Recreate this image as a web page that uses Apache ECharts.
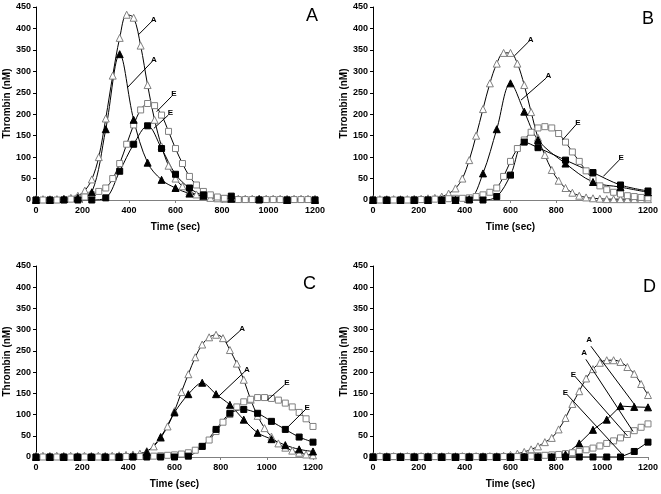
<!DOCTYPE html>
<html><head><meta charset="utf-8">
<script src="https://cdn.jsdelivr.net/npm/echarts/dist/echarts.min.js"></script>
<style>html,body{margin:0;padding:0;background:#fff}#c{width:661px;height:494px}</style>
</head><body><div id="c"></div>
<script>
// time grids (sec)
const t30 = [0,30,60,90,120,150,180,210,240,270,300,330,360,390,420,450,480,510,540,570,600,630,660,690,720,750,780,810,840,870,900,930,960,990,1020,1050,1080,1110,1140,1170,1200];
const t60 = [0,60,120,180,240,300,360,420,480,540,600,660,720,780,840,900,960,1020,1080,1140,1200];
const tAB = [0,60,120,180,240,300,360,420,480,540,600,660,720,840,960,1080,1200];

// Panel A (nM)
const A_openTri = [2,2,2,2,3,5,10,22,48,100,190,290,378,432,425,360,268,187,125,80,50,32,20,13,8,5,4,3,3,3,3,3,3,3,3,3,3,3,3,3,3];
const A_openSq  = [0,0,0,0,1,2,4,7,12,20,28,50,85,130,175,210,225,220,198,160,120,85,55,35,20,12,7,4,2,1,1,1,1,1,1,1,1,1,1,1,1];
const A_fillTri = [0,0,2,5,18,165,340,187,87,47,28,15,10,3,2,0,0];
const A_fillSq  = [0,0,0,0,0,5,67,130,173,120,60,28,12,9,0,0,0];

// Panel B
const B_openTri = [2,2,2,2,2,2,3,3,4,5,8,15,27,50,93,150,212,272,318,343,343,318,268,205,145,105,70,45,28,17,10,6,4,3,2,2,2,2,2,2,2];
const B_openSq  = [0,0,0,0,0,0,1,1,1,2,2,3,4,4,5,8,12,18,28,55,90,120,140,158,168,171,168,155,135,112,90,68,48,33,24,18,14,10,8,6,5];
const B_fillTri = [0,0,0,0,0,0,0,2,62,165,272,206,140,85,42,30,18];
const B_fillSq  = [0,0,0,0,0,0,0,0,0,8,58,135,122,93,64,35,21];

// Panel C
const C_openTri = [3,3,3,3,3,3,3,3,3,3,3,3,4,5,6,8,14,25,45,72,108,153,195,235,265,282,288,280,252,220,182,135,97,68,48,32,22,15,10,6,4];
const C_openSq  = [0,0,0,0,0,0,0,0,0,0,0,0,1,1,1,1,1,2,3,4,5,7,10,16,25,40,60,82,100,118,130,136,140,140,138,134,127,118,105,90,72];
const C_fillTri = [0,0,0,0,0,0,0,2,12,47,105,148,175,148,123,88,57,42,28,18,13];
const C_fillSq  = [0,0,0,0,0,0,0,0,0,0,0,2,25,65,103,112,103,84,65,47,35];

// Panel D
const D_openTri = [2,2,2,2,2,2,2,2,2,2,2,2,2,2,2,2,2,2,2,3,5,8,12,18,25,35,45,65,92,125,155,185,207,222,228,228,224,212,196,172,146];
const D_openSq  = [1,1,1,1,1,1,1,1,1,1,1,1,1,1,1,1,1,1,1,1,1,1,1,2,3,4,5,6,8,10,13,17,21,26,32,38,45,53,62,70,78];
const D_fillTri = [0,0,0,0,0,0,0,0,0,0,0,0,0,0,6,32,64,88,120,118,117];
const D_fillSq  = [0,0,0,0,0,0,0,0,0,0,0,0,0,0,0,0,0,0,0,13,35];

// leader annotations: [label, t_start, v_start, t_end, v_end]
const leadA = [['A',497,416,440,385],['A',498,322,393,262],['E',584,242,519,206],['E',569,198,507,167]];
const leadB = [['A',679,369,617,336],['A',755,284,646,233],['E',885,175,827,140],['E',1074,93,1005,55]];
const leadC = [['A',883,297,823,268],['A',904,201,793,144],['E',1077,170,1002,134],['E',1166,111,1088,69]];
const leadD = [['A',951,261,1146,120],['A',929,230,1135,60],['E',883,189,1110,50],['E',849,146,1085,8]];

const panelLetters = ['A','B','C','D'];

const FONT = 'Liberation Sans, Arial, sans-serif';
const grids = [
  {left:36, top:7, width:279, height:193},
  {left:373, top:7, width:276, height:193},
  {left:36, top:266, width:277, height:191},
  {left:373, top:266, width:276, height:191}
];
const letterPos = [[301,2],[637,5],[298,270],[638,273]];

const panels = [
  {ot:A_openTri, os:A_openSq, ft:A_fillTri, fs:A_fillSq, tf:tAB, lead:leadA, sm:0.35},
  {ot:B_openTri, os:B_openSq, ft:B_fillTri, fs:B_fillSq, tf:tAB, lead:leadB, sm:0.35},
  {ot:C_openTri, os:C_openSq, ft:C_fillTri, fs:C_fillSq, tf:t60, lead:leadC, sm:0.3},
  {ot:D_openTri, os:D_openSq, ft:D_fillTri, fs:D_fillSq, tf:t60, lead:leadD, sm:false}
];

function pairs(ts, vs){ return ts.map((t,i)=>[t, vs[i]]); }

const xAxes = [], yAxes = [], series = [], titles = [];
panels.forEach((p, i) => {
  xAxes.push({
    type:'value', gridIndex:i, min:0, max:1200, interval:200,
    axisLine:{show:true, onZero:false, lineStyle:{color:'#808080', width:1}},
    axisTick:{show:true, length:3, lineStyle:{color:'#808080'}},
    axisLabel:{fontSize:9, fontWeight:'bold', color:'#000', margin:6, fontFamily:FONT, formatter:v=>String(v)},
    splitLine:{show:false},
    name:'Time (sec)', nameLocation:'middle', nameGap:22,
    nameTextStyle:{fontSize:10, fontWeight:'bold', color:'#000', fontFamily:FONT}
  });
  yAxes.push({
    type:'value', gridIndex:i, min:0, max:450, interval:50,
    axisLine:{show:true, lineStyle:{color:'#000', width:1}},
    axisTick:{show:true, length:3, lineStyle:{color:'#000'}},
    axisLabel:{fontSize:9, fontWeight:'bold', color:'#000', margin:5, fontFamily:FONT, formatter:v=>String(v)},
    splitLine:{show:false},
    name:'Thrombin (nM)', nameLocation:'middle', nameGap:23, nameRotate:90,
    nameTextStyle:{fontSize:10, fontWeight:'bold', color:'#000', fontFamily:FONT}
  });
  titles.push({text:panelLetters[i], left:letterPos[i][0], top:letterPos[i][1],
    textStyle:{fontSize:18, fontWeight:'normal', color:'#000', fontFamily:FONT}});

  const base = {type:'line', xAxisIndex:i, yAxisIndex:i, showAllSymbol:true, animation:false,
    lineStyle:{color:'#000', width:1}, symbolSize:6};
  const openStyle = {color:'#fff', borderColor:'#808080', borderWidth:1};
  const fillStyle = {color:'#000', borderColor:'#000', borderWidth:1};
  series.push(Object.assign({}, base, {name:'ot'+i, data:pairs(t30,p.ot), symbol:'triangle', symbolSize:7, smooth:0.35, itemStyle:openStyle,
    markLine:{silent:true, animation:false, symbol:['none','none'],
      lineStyle:{color:'#000', width:1, type:'solid'},
      label:{show:true, position:'start', formatter:'{b}', fontSize:8, fontWeight:'bold', color:'#000', fontFamily:FONT, distance:3},
      data:p.lead.map(l=>[{name:l[0], coord:[l[1],l[2]]},{coord:[l[3],l[4]]}])}}));
  series.push(Object.assign({}, base, {name:'os'+i, data:pairs(t30,p.os), symbol:'rect', smooth:0.35, itemStyle:openStyle}));
  series.push(Object.assign({}, base, {name:'ft'+i, data:pairs(p.tf,p.ft), symbol:'triangle', symbolSize:7, smooth:p.sm, itemStyle:fillStyle}));
  series.push(Object.assign({}, base, {name:'fs'+i, data:pairs(p.tf,p.fs), symbol:'rect', smooth:p.sm, itemStyle:fillStyle}));
});

const chart = echarts.init(document.getElementById('c'), null, {renderer:'canvas'});
chart.setOption({
  backgroundColor:'#fff', animation:false,
  title:titles, grid:grids, xAxis:xAxes, yAxis:yAxes, series:series
});
</script></body></html>
